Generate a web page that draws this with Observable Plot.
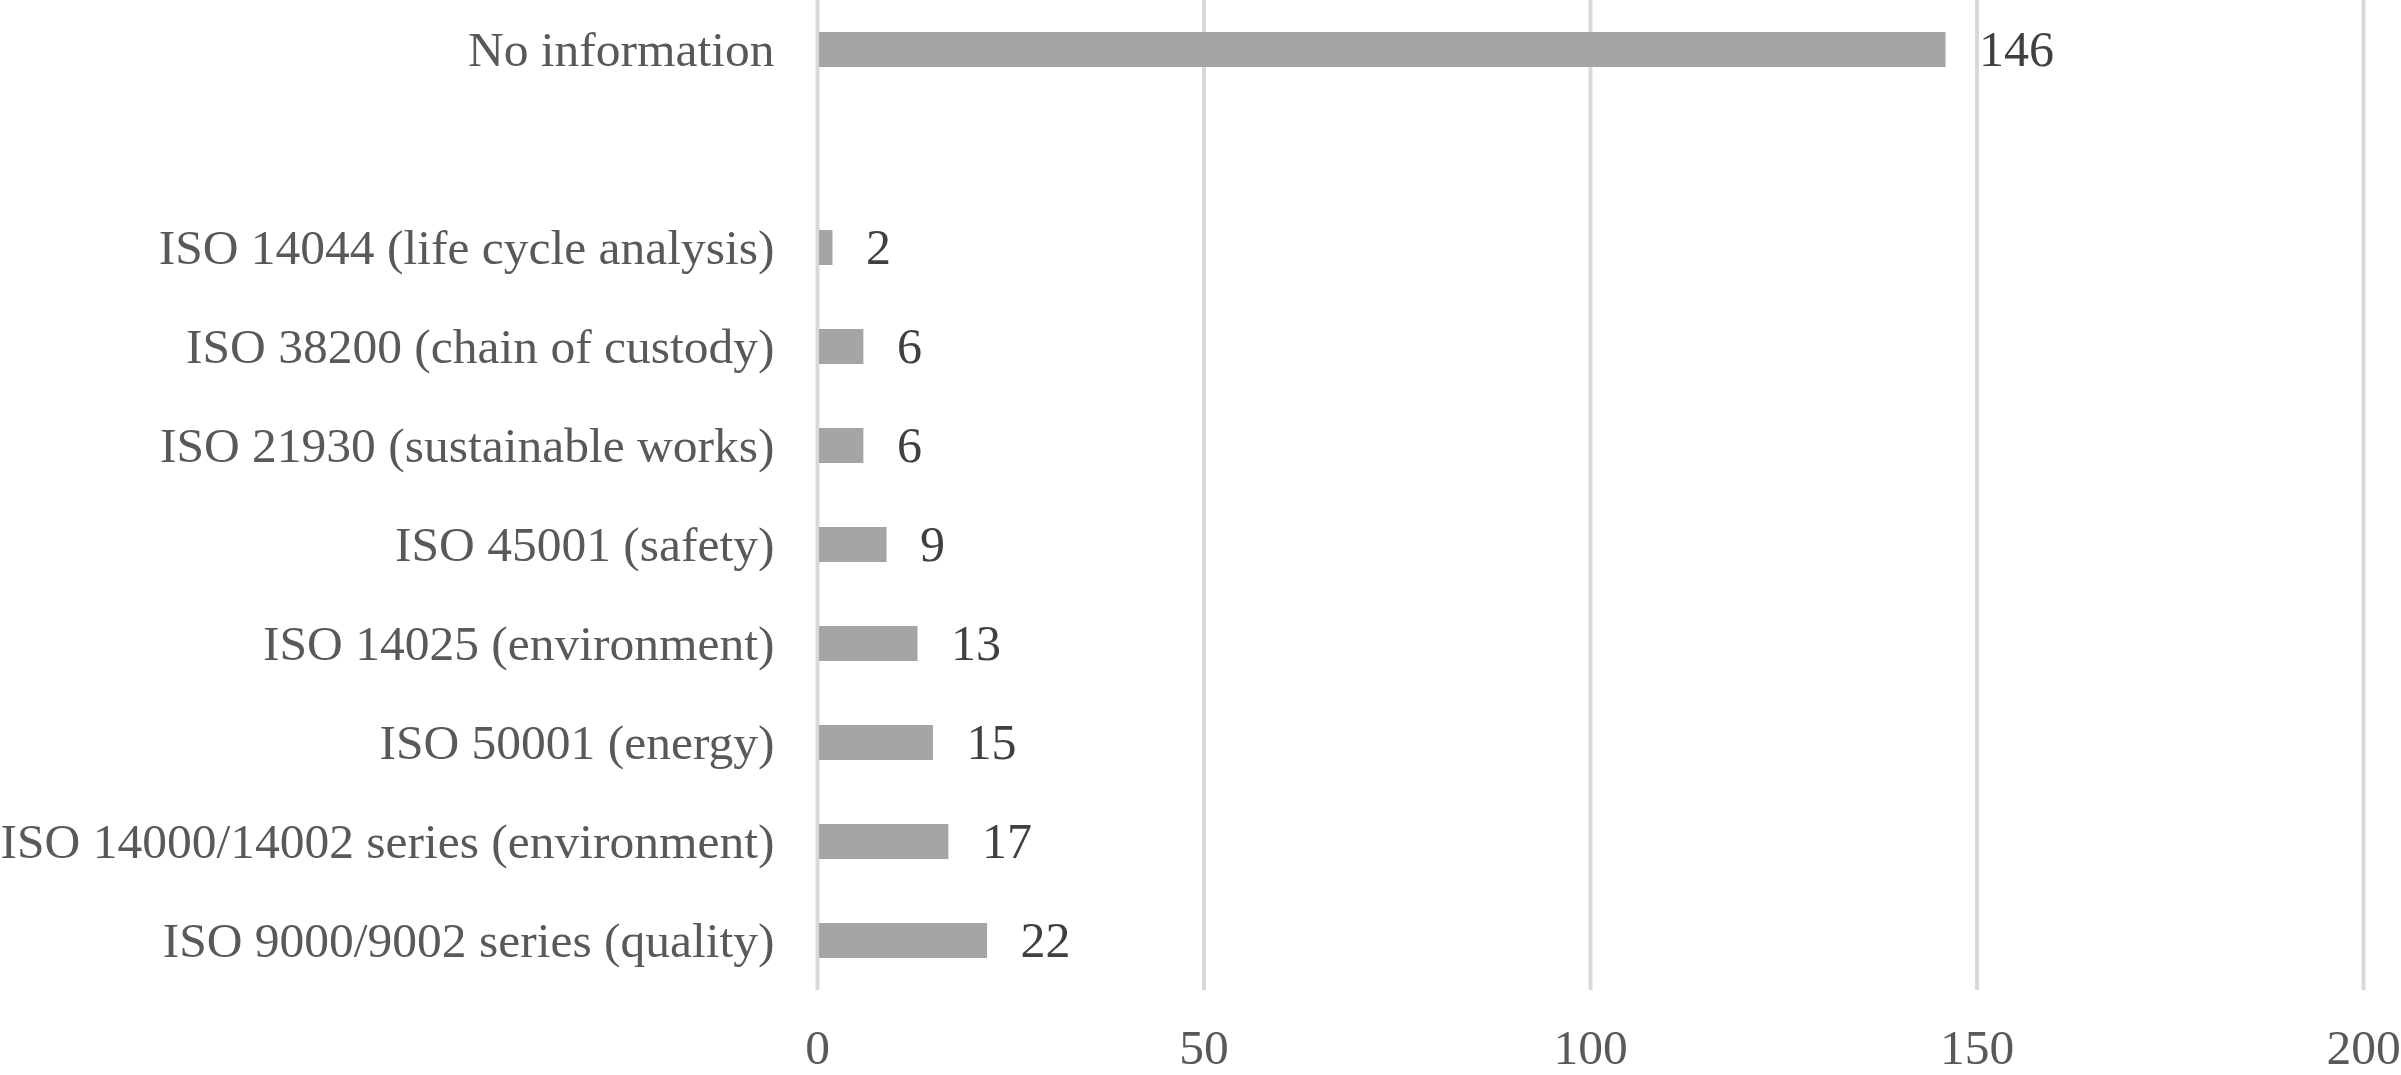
<!DOCTYPE html>
<html>
<head>
<meta charset="utf-8">
<script src="https://cdn.jsdelivr.net/npm/d3@7"></script>
<script src="https://cdn.jsdelivr.net/npm/@observablehq/plot@0.6"></script>
<style>
  html, body { margin: 0; padding: 0; background: #ffffff; }
  #chart { width: 2401px; height: 1075px; overflow: hidden; }
</style>
</head>
<body>
<div id="chart"></div>
<script>
// Categories from top to bottom (the empty string is the blank slot in the reference)
const categories = [
  "No information",
  "",
  "ISO 14044 (life cycle analysis)",
  "ISO 38200 (chain of custody)",
  "ISO 21930 (sustainable works)",
  "ISO 45001 (safety)",
  "ISO 14025 (environment)",
  "ISO 50001 (energy)",
  "ISO 14000/14002 series (environment)",
  "ISO 9000/9002 series (quality)"
];
const values = [146, null, 2, 6, 6, 9, 13, 15, 17, 22];
const xTicks = [0, 50, 100, 150, 200];

const data = categories
  .map((c, i) => ({category: c, value: values[i]}))
  .filter(d => d.value != null);

const chart = Plot.plot({
  width: 2401,
  height: 1075,
  marginLeft: 817,
  marginRight: 38,
  marginTop: 0,
  marginBottom: 85,
  style: {
    fontFamily: "'Liberation Serif', 'Times New Roman', serif",
    fontSize: "49.5px",
    color: "#595959",
    background: "#ffffff"
  },
  x: {domain: [0, 200], ticks: xTicks, tickSize: 0, tickPadding: 38, label: null},
  y: {domain: categories, paddingInner: 0.646, paddingOuter: 0.323, tickSize: 0, tickPadding: 43, label: null},
  marks: [
    Plot.gridX(xTicks, {stroke: "#d9d9d9", strokeWidth: 4, strokeOpacity: 1}),
    Plot.barX(data, {x: "value", y: "category", fill: "#a5a5a5", insetLeft: 2}),
    Plot.text(data, {
      x: "value", y: "category", text: d => String(d.value),
      textAnchor: "start", dx: 33, fill: "#404040", fontSize: 50
    })
  ]
});
document.getElementById("chart").appendChild(chart);
</script>
</body>
</html>
